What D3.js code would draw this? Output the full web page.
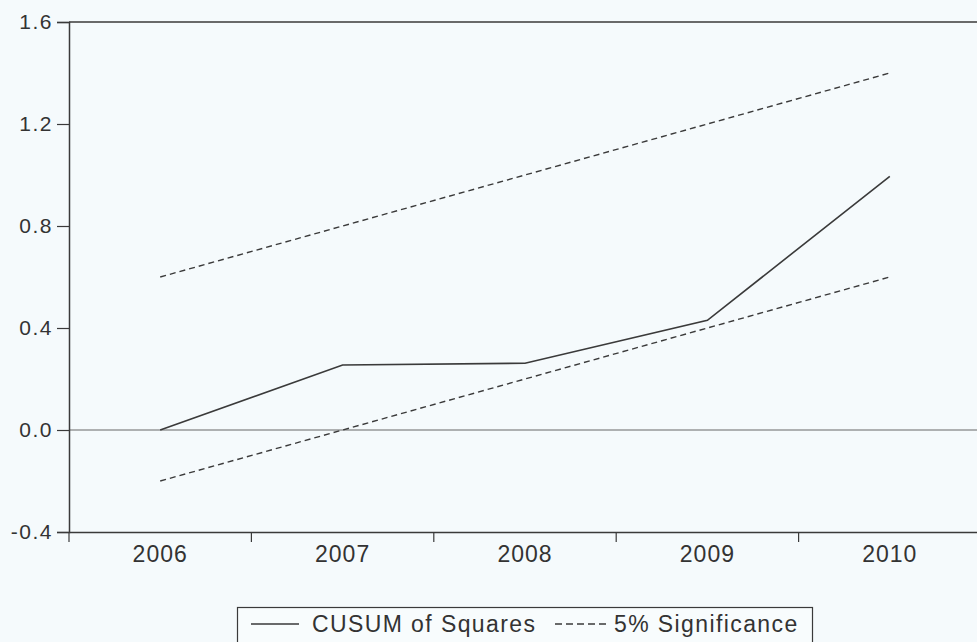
<!DOCTYPE html>
<html>
<head>
<meta charset="utf-8">
<script src="https://cdn.jsdelivr.net/npm/d3@7"></script>
<style>
  body { margin: 0; background: #f5fafc; }
  svg { display: block; font-family: "Liberation Sans", Arial, sans-serif; }
</style>
</head>
<body>
<svg width="977" height="642"></svg>
<script>
  const years = ['2006', '2007', '2008', '2009', '2010'];
  const cusumSq = [0.0, 0.255, 0.262, 0.43, 0.995];
  const upper = [0.6, 0.8, 1.0, 1.2, 1.4];
  const lower = [-0.2, 0.0, 0.2, 0.4, 0.6];
  const yTicks = [-0.4, 0.0, 0.4, 0.8, 1.2, 1.6];

  const svg = d3.select('svg');
  const ink = '#3a3a3a';

  const x = d3.scaleBand()
    .domain(years)
    .range([69, 69 + 5 * 182.4]);

  const y = d3.scaleLinear()
    .domain([-0.4, 1.6])
    .range([532, 22]);

  const xc = (d, i) => x(years[i]) + x.bandwidth() / 2;

  // top border
  svg.append('line')
    .attr('x1', 69).attr('x2', 977)
    .attr('y1', y(1.6)).attr('y2', y(1.6))
    .attr('stroke', ink).attr('stroke-width', 1.5);

  // zero line
  svg.append('line')
    .attr('x1', 69).attr('x2', 977)
    .attr('y1', y(0)).attr('y2', y(0))
    .attr('stroke', '#666').attr('stroke-width', 1);

  const yAxis = svg.append('g')
    .attr('transform', 'translate(69,0)')
    .call(d3.axisLeft(y).tickValues(yTicks)
      .tickFormat(d => d.toFixed(1))
      .tickSize(12).tickPadding(4));

  const xAxis = svg.append('g')
    .attr('transform', 'translate(0,532)')
    .call(d3.axisBottom(x).tickSize(0).tickPadding(14));

  // ticks between years
  const bounds = [69].concat(years.map(d => x(d) + x.bandwidth()));
  svg.append('g').selectAll('line')
    .data(bounds)
    .enter().append('line')
      .attr('x1', d => d).attr('x2', d => d)
      .attr('y1', 532).attr('y2', 542)
      .attr('stroke', ink).attr('stroke-width', 1.2);

  [yAxis, xAxis].forEach(a => {
    a.select('.domain').attr('stroke', ink).attr('stroke-width', 1.5);
    a.selectAll('.tick line').attr('stroke', ink).attr('stroke-width', 1.2);
    a.selectAll('text').attr('fill', '#333')
      .attr('font-family', '"Liberation Sans", Arial, sans-serif');
  });
  yAxis.selectAll('text').attr('font-size', 21).attr('letter-spacing', 1.5);
  xAxis.selectAll('text').attr('font-size', 23).attr('letter-spacing', 1);

  const line = d3.line()
    .x(xc)
    .y(d => y(d));

  svg.append('path')
    .datum(cusumSq)
    .attr('d', line)
    .attr('fill', 'none')
    .attr('stroke', ink)
    .attr('stroke-width', 1.6);

  [upper, lower].forEach(s => {
    svg.append('path')
      .datum(s)
      .attr('d', line)
      .attr('fill', 'none')
      .attr('stroke', ink)
      .attr('stroke-width', 1.4)
      .attr('stroke-dasharray', '6,4');
  });

  // legend
  const lg = svg.append('g');
  lg.append('rect')
    .attr('x', 237.5).attr('y', 607.5)
    .attr('width', 575).attr('height', 40)
    .attr('fill', '#f8fcfd')
    .attr('stroke', ink).attr('stroke-width', 1.2);
  lg.append('line')
    .attr('x1', 251).attr('x2', 299).attr('y1', 624).attr('y2', 624)
    .attr('stroke', ink).attr('stroke-width', 1.4);
  lg.append('text')
    .attr('x', 312).attr('y', 632)
    .attr('font-size', 23).attr('letter-spacing', 1.4).attr('fill', '#333')
    .text('CUSUM of Squares');
  lg.append('line')
    .attr('x1', 555).attr('x2', 606).attr('y1', 624).attr('y2', 624)
    .attr('stroke', ink).attr('stroke-width', 1.3)
    .attr('stroke-dasharray', '7,4');
  lg.append('text')
    .attr('x', 614).attr('y', 632)
    .attr('font-size', 23).attr('letter-spacing', 1.4).attr('fill', '#333')
    .text('5% Significance');
</script>
</body>
</html>
